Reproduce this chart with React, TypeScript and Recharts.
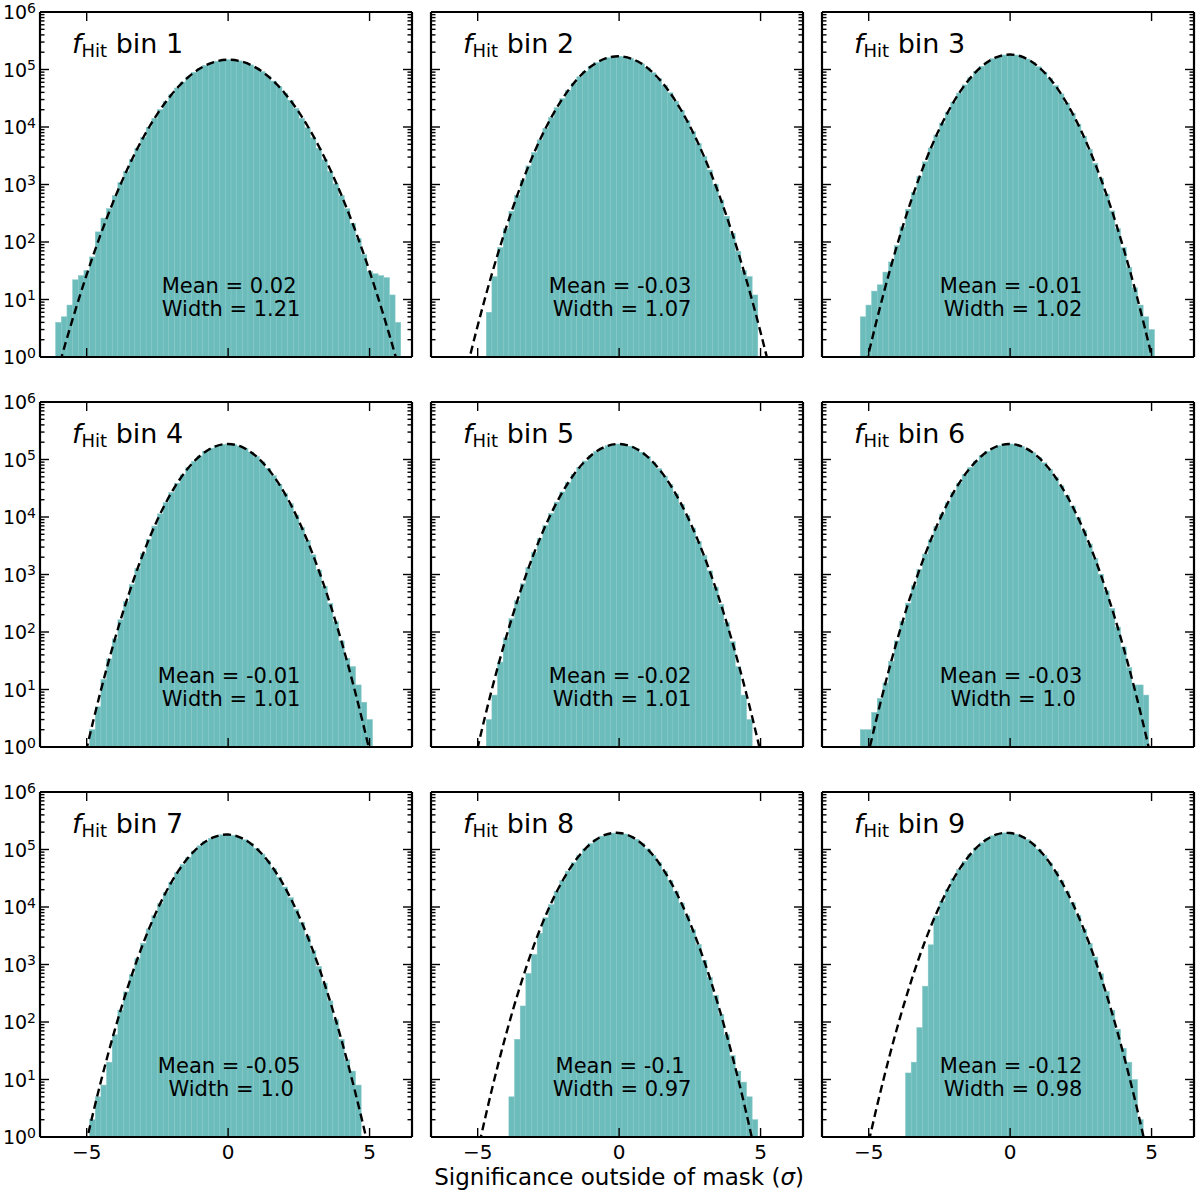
import React from 'react';
import { ComposedChart, Bar, Line, XAxis, YAxis } from 'recharts';

// histogram bin centres (sigma), bin width 0.2
const binX = [
  -6.4, -6.2, -6.0, -5.8, -5.6, -5.4, -5.2, -5.0, -4.8, -4.6, -4.4, -4.2, -4.0, -3.8, -3.6, -3.4, -3.2,
  -3.0, -2.8, -2.6, -2.4, -2.2, -2.0, -1.8, -1.6, -1.4, -1.2, -1.0, -0.8, -0.6, -0.4, -0.2, 0.0, 0.2,
  0.4, 0.6, 0.8, 1.0, 1.2, 1.4, 1.6, 1.8, 2.0, 2.2, 2.4, 2.6, 2.8, 3.0, 3.2, 3.4, 3.6, 3.8, 4.0, 4.2,
  4.4, 4.6, 4.8, 5.0, 5.2, 5.4, 5.6, 5.8, 6.0, 6.2, 6.4,
];

// x positions of the sampled fit curves
const curveX = [
  -6.5, -6.0, -5.5, -5.0, -4.5, -4.0, -3.5, -3.0, -2.5, -2.0, -1.5, -1.0, -0.5, 0.0, 0.5, 1.0, 1.5,
  2.0, 2.5, 3.0, 3.5, 4.0, 4.5, 5.0, 5.5, 6.0, 6.5,
];

const panelNames = ['1', '2', '3', '4', '5', '6', '7', '8', '9'];
const means = ['0.02', '-0.03', '-0.01', '-0.01', '-0.02', '-0.03', '-0.05', '-0.1', '-0.12'];
const widths = ['1.21', '1.07', '1.02', '1.01', '1.01', '1.0', '1.0', '0.97', '0.98'];

const bin1 = [
  0, 0, 4, 5, 8, 22, 26, 32, 55, 150, 260, 380, 640, 1080, 1690, 2730, 4290, 6570, 9800, 14200, 20000,
  27500, 36700, 47700, 60400, 74300, 89000, 103700, 117500, 129700, 139300, 145500, 148000, 146000,
  141000, 131800, 120200, 106600, 92000, 77200, 63000, 50100, 38800, 29200, 21000, 14200, 9700, 6500,
  4250, 2700, 1700, 1030, 640, 379, 211, 115, 60, 31, 28, 26, 24, 12, 4, 0, 0,
];
const bin2 = [
  0, 0, 0, 0, 0, 0, 0, 0, 0, 6, 25, 80, 170, 343, 650, 1190, 2110, 3610, 5960, 9500, 14600, 21700,
  31200, 43200, 57900, 74800, 93400, 112600, 131200, 147300, 160000, 167600, 170000, 166000, 156700,
  142800, 125700, 106900, 87700, 69500, 53200, 39400, 28100, 19400, 12900, 8280, 5150, 3080, 1785, 998,
  539, 281, 141, 69, 32, 25, 12, 0, 0, 0, 0, 0, 0, 0, 0,
];
const bin3 = [
  0, 0, 0, 0, 0, 0, 5, 8, 14, 18, 30, 45, 87, 183, 372, 728, 1370, 2480, 4320, 7250, 11700, 18200,
  27100, 39000, 54000, 71900, 92200, 113700, 134900, 153900, 169100, 178900, 182000, 178200, 167900,
  152200, 132800, 111500, 90100, 70000, 52400, 37700, 26100, 17400, 11170, 6900, 4100, 2340, 1290, 682,
  347, 170, 80, 36, 16, 8, 5, 3, 0, 0, 0, 0, 0, 0, 0,
];
const bin4 = [
  0, 0, 0, 0, 0, 0, 0, 0, 2, 5, 15, 34, 76, 163, 337, 667, 1272, 2330, 4110, 6960, 11330, 17760, 26750,
  38730, 53950, 72240, 93000, 115200, 137100, 157000, 172800, 182900, 186200, 182200, 171500, 155200,
  135000, 113000, 90900, 70300, 52300, 37400, 25720, 17010, 10810, 6610, 3890, 2200, 1195, 624, 314, 152,
  70, 35, 25, 12, 6, 3, 0, 0, 0, 0, 0, 0, 0,
];
const bin5 = [
  0, 0, 0, 0, 0, 0, 0, 0, 0, 3, 8, 30, 79, 170, 349, 690, 1312, 2400, 4220, 7136, 11600, 18140, 27270,
  39420, 54800, 73200, 94100, 116300, 138200, 157900, 173500, 183300, 186200, 181900, 170800, 154300,
  133900, 111900, 89800, 69300, 51460, 36730, 25210, 16640, 10560, 6445, 3780, 2133, 1157, 604, 303, 146,
  68, 25, 8, 3, 0, 0, 0, 0, 0, 0, 0, 0, 0,
];
const bin6 = [
  0, 0, 0, 0, 0, 0, 2, 2, 4, 7, 13, 31, 70, 153, 318, 637, 1226, 2265, 4020, 6857, 11230, 17690, 26760,
  38890, 54310, 72900, 93900, 116300, 138500, 158300, 173900, 183500, 186100, 181300, 169800, 152700,
  131900, 109600, 87400, 67000, 49340, 34910, 23730, 15500, 9730, 5866, 3399, 1891, 1012, 520, 257, 122,
  55, 24, 12, 12, 8, 0, 0, 0, 0, 0, 0, 0, 0,
];
const bin7 = [
  0, 0, 0, 0, 0, 0, 0, 0, 2, 5, 8, 20, 60, 161, 334, 666, 1276, 2348, 4152, 7052, 11510, 18050, 27200,
  39370, 54750, 73180, 93960, 115900, 137300, 156400, 171200, 180000, 181800, 176400, 164400, 147300,
  126800, 104900, 83340, 63630, 46660, 32890, 22260, 14490, 9057, 5437, 3138, 1740, 927, 474, 233, 110,
  50, 22, 14, 8, 0, 0, 0, 0, 0, 0, 0, 0, 0,
];
const bin8 = [
  0, 0, 0, 0, 0, 0, 0, 0, 0, 0, 0, 0, 0, 5, 50, 190, 700, 1500, 3500, 6500, 11000, 18730, 28640, 42010,
  58980, 79430, 102500, 126800, 150300, 170700, 185900, 193000, 194500, 185900, 170700, 150300, 126800,
  102500, 79430, 58980, 42010, 28640, 18730, 11730, 7044, 4054, 2236, 1182, 599, 290, 135, 60, 26, 14, 9,
  5, 2, 0, 0, 0, 0, 0, 0, 0, 0,
];
const bin9 = [
  0, 0, 0, 0, 0, 0, 0, 0, 0, 0, 0, 0, 0, 0, 13, 20, 80, 420, 2200, 7000, 12500, 20000, 30970, 44870,
  62360, 83100, 106200, 130300, 153300, 172900, 187200, 194400, 193500, 184900, 169400, 148900, 125500,
  101500, 78720, 58560, 41820, 28620, 18790, 11840, 7153, 4146, 2305, 1350, 690, 340, 160, 75, 35, 20,
  10, 2, 0, 0, 0, 0, 0, 0, 0, 0, 0,
];

const fit1 = [
  0.073, 0.63, 4.5, 27, 138, 593, 2150, 6570, 16920, 36720, 67200, 103700, 134900, 147900, 136700,
  106600, 70020, 38780, 18110, 7130, 2366, 662, 156, 31, 5.2, 0.74, 0.088,
];
const fit2 = [
  0.002, 0.03, 0.36, 3.5, 27.6, 174, 885, 3608, 11830, 31200, 66120, 112600, 154200, 169700, 150200,
  106900, 61100, 28090, 10380, 3083, 736, 141, 21.8, 2.7, 0.27, 0.022, 0.0014,
];
const fit3 = [
  0.0003, 0.0059, 0.094, 1.16, 11.3, 86.7, 523, 2480, 9252, 27140, 62620, 113600, 162100, 181900,
  160600, 111500, 60850, 26120, 8820, 2341, 489, 80.3, 10.4, 1.05, 0.084, 0.0053, 0.00026,
];
const fit4 = [
  0.0002, 0.0043, 0.072, 0.94, 9.55, 76.2, 476, 2330, 8925, 26750, 62740, 115200, 165600, 186200,
  163900, 113000, 60920, 25720, 8500, 2197, 445, 70.4, 8.73, 0.85, 0.064, 0.0038, 0.00018,
];
const fit5 = [
  0.00022, 0.0046, 0.076, 0.98, 9.97, 79.2, 493, 2399, 9145, 27270, 63650, 116300, 166300, 186200,
  163200, 111900, 60030, 25210, 8290, 2133, 430, 67.7, 8.36, 0.81, 0.061, 0.0036, 0.00017,
];
const fit6 = [
  0.00015, 0.0034, 0.059, 0.81, 8.55, 70.5, 453, 2265, 8820, 26760, 63220, 116300, 166700, 186100,
  161800, 109600, 57790, 23730, 7595, 1891, 367, 55.5, 6.53, 0.6, 0.043, 0.0024, 0.0001,
];
const fit7 = [
  0.00017, 0.0037, 0.065, 0.87, 9.14, 74.6, 474, 2348, 9057, 27200, 63630, 115900, 164400, 181800,
  156400, 104900, 54750, 22260, 7052, 1740, 334, 50, 5.83, 0.53, 0.037, 0.0021, 0.00009,
];
const fit8 = [
  0.00007, 0.0018, 0.037, 0.56, 6.65, 60.3, 419, 2236, 9141, 28640, 68800, 126800, 179100, 194000,
  161000, 102500, 50040, 18730, 5372, 1182, 199, 25.8, 2.56, 0.19, 0.011, 0.0005, 0.000017,
];
const fit9 = [
  0.00012, 0.003, 0.056, 0.81, 9.0, 77.1, 510, 2600, 10220, 30970, 72370, 130300, 180900, 193500,
  159600, 101500, 49750, 18790, 5474, 1229, 213, 28.4, 2.92, 0.23, 0.014, 0.00067, 0.000024,
];

const xTicks = [-5, 0, 5];
const xTickLabels = ['\u22125', '0', '5'];
const yTicks = [1, 10, 100, 1000, 10000, 100000, 1000000];
const yExponents = ['0', '1', '2', '3', '4', '5', '6'];
const minorSteps = [2, 3, 4, 5, 6, 7, 8, 9];

const counts = [bin1, bin2, bin3, bin4, bin5, bin6, bin7, bin8, bin9];
const fits = [fit1, fit2, fit3, fit4, fit5, fit6, fit7, fit8, fit9];
const minorTicks = yTicks.slice(0, -1).flatMap((d) => minorSteps.map((m) => m * d));
const allYTicks = [...yTicks, ...minorTicks];

// layout
const X_MIN = -6.65;
const X_MAX = 6.5;
const BIN_W = 0.2;
const PLOT_W = 372;
const PLOT_H = 345;
const COL_LEFT = [40, 431, 822];
const ROW_TOP = [12, 402, 792];
const MARGIN = { top: 11, right: 9, bottom: 39, left: 39 };
const FONT = '"DejaVu Sans", sans-serif';
const INK = '#000';
const TEAL = '#6dbcbc';
const MAJOR = 9;
const MINOR = 4.5;

const px = (v: number) => ((v - X_MIN) / (X_MAX - X_MIN)) * PLOT_W;
const BIN_PX = (PLOT_W / (X_MAX - X_MIN)) * BIN_W;

const frame = { stroke: INK, strokeWidth: 2.2 };

const leftTick = (label: boolean) => (p: any) => {
  const idx = yTicks.indexOf(p.payload.value);
  const len = idx >= 0 ? MAJOR : MINOR;
  return (
    <g>
      <line x1={p.x} x2={p.x + len} y1={p.y} y2={p.y} stroke={INK} strokeWidth={1.4} />
      {label && idx >= 0 && (
        <text x={p.x - 4} y={p.y + 7} textAnchor="end" fontFamily={FONT} fontSize={19} fill={INK}>
          10<tspan dy={-6.5} fontSize={14}>{yExponents[idx]}</tspan>
        </text>
      )}
    </g>
  );
};

const rightTick = (p: any) => {
  const len = yTicks.includes(p.payload.value) ? MAJOR : MINOR;
  return <line x1={p.x} x2={p.x - len} y1={p.y} y2={p.y} stroke={INK} strokeWidth={1.4} />;
};

const bottomTick = (label: boolean) => (p: any) => (
  <g>
    <line x1={p.x} x2={p.x} y1={p.y} y2={p.y - MAJOR} stroke={INK} strokeWidth={1.4} />
    {label && (
      <text x={p.x} y={p.y + 22} textAnchor="middle" fontFamily={FONT} fontSize={20} fill={INK}>
        {xTickLabels[p.index]}
      </text>
    )}
  </g>
);

const topTick = (p: any) => (
  <line x1={p.x} x2={p.x} y1={p.y} y2={p.y + MAJOR} stroke={INK} strokeWidth={1.4} />
);

// widen each bar about its own centre to the full bin width
const binShape = (p: any) => {
  if (!p.height || p.height <= 0) return <g />;
  const cx = p.x + p.width / 2;
  return (
    <rect
      x={cx - BIN_PX / 2}
      y={p.y}
      width={BIN_PX}
      height={p.height}
      fill={TEAL}
      stroke="#86c8c8"
      strokeWidth={0.5}
    />
  );
};

function Panel({ i }: { i: number }) {
  const row = Math.floor(i / 3);
  const col = i % 3;
  const rows = binX
    .map((x, k) => ({ x, count: counts[i][k] }))
    .filter((r) => r.count > 0);
  const fitRows = curveX.map((x, k) => ({ x, fit: fits[i][k] }));

  return (
    <div style={{ position: 'absolute', left: COL_LEFT[col] - 40, top: ROW_TOP[row] - 12 }}>
      <ComposedChart
        width={PLOT_W + 50}
        height={PLOT_H + 52}
        data={rows}
        margin={MARGIN}
        barCategoryGap={0}
        barGap={0}
      >
        <XAxis
          xAxisId="b"
          dataKey="x"
          type="number"
          domain={[X_MIN, X_MAX]}
          allowDataOverflow
          ticks={xTicks}
          interval={0}
          height={1}
          tickSize={0}
          tickMargin={0}
          tickLine={false}
          axisLine={frame}
          tick={bottomTick(row === 2)}
        />
        <XAxis
          xAxisId="t"
          orientation="top"
          dataKey="x"
          type="number"
          domain={[X_MIN, X_MAX]}
          allowDataOverflow
          ticks={xTicks}
          interval={0}
          height={1}
          tickSize={0}
          tickMargin={0}
          tickLine={false}
          axisLine={frame}
          tick={topTick}
        />
        <YAxis
          yAxisId="l"
          type="number"
          scale="log"
          domain={[1, 1000000]}
          allowDataOverflow
          ticks={allYTicks}
          interval={0}
          width={1}
          tickSize={0}
          tickMargin={0}
          tickLine={false}
          axisLine={frame}
          tick={leftTick(col === 0)}
        />
        <YAxis
          yAxisId="r"
          orientation="right"
          type="number"
          scale="log"
          domain={[1, 1000000]}
          allowDataOverflow
          ticks={allYTicks}
          interval={0}
          width={1}
          tickSize={0}
          tickMargin={0}
          tickLine={false}
          axisLine={frame}
          tick={rightTick}
        />
        <Bar
          xAxisId="b"
          yAxisId="l"
          dataKey="count"
          fill={TEAL}
          shape={binShape}
          isAnimationActive={false}
        />
        <Line
          xAxisId="b"
          yAxisId="l"
          data={fitRows}
          dataKey="fit"
          type="natural"
          stroke={INK}
          strokeWidth={2.4}
          strokeDasharray="8 4.5"
          dot={false}
          activeDot={false}
          isAnimationActive={false}
        />
      </ComposedChart>
    </div>
  );
}

function Labels() {
  return (
    <svg
      width={1200}
      height={1195}
      style={{ position: 'absolute', left: 0, top: 0, pointerEvents: 'none' }}
      fontFamily={FONT}
      fill={INK}
    >
      {panelNames.map((name, i) => {
        const row = Math.floor(i / 3);
        const col = i % 3;
        const left = COL_LEFT[col];
        const top = ROW_TOP[row];
        const cx = left + px(0) + 1;
        return (
          <g key={name}>
            <text x={left + 32} y={top + 41} fontSize={27}>
              <tspan fontStyle="italic">f</tspan>
              <tspan fontSize={18} dy={4}>Hit</tspan>
              <tspan dy={-4}> bin {name}</tspan>
            </text>
            <text x={cx} y={top + 281} fontSize={21} textAnchor="middle">
              Mean = {means[i]}
            </text>
            <text x={cx + 2} y={top + 304} fontSize={21} textAnchor="middle">
              Width = {widths[i]}
            </text>
          </g>
        );
      })}
      <text x={COL_LEFT[1] + px(0)} y={1185} fontSize={23} textAnchor="middle">
        Significance outside of mask (<tspan fontStyle="italic">σ</tspan>)
      </text>
    </svg>
  );
}

export default function App() {
  return (
    <div style={{ position: 'absolute', left: 0, top: 0, width: 1200, height: 1195, background: '#fff' }}>
      {panelNames.map((name, i) => (
        <Panel key={name} i={i} />
      ))}
      <Labels />
    </div>
  );
}
